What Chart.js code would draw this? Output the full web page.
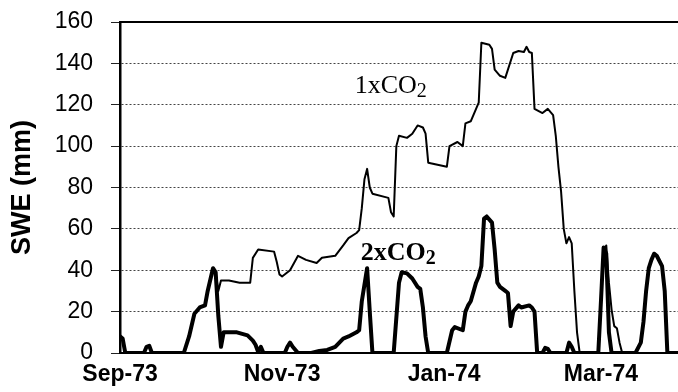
<!DOCTYPE html>
<html>
<head>
<meta charset="utf-8">
<title>SWE 1973-74</title>
<script src="https://cdn.jsdelivr.net/npm/chart.js@4.4.1/dist/chart.umd.min.js"></script>
<style>
  html, body { margin: 0; padding: 0; background: #fff; }
  #wrap { width: 678px; height: 392px; }
</style>
</head>
<body>
<div id="wrap"><canvas id="sweChart" width="678" height="392"></canvas></div>
<script>
// days counted from 1 Sep 1973
const tickDays = [0, 61, 122, 181];
const tickLabels = ["Sep-73", "Nov-73", "Jan-74", "Mar-74"];

// 2xCO2 run
const days2x = [0, 1, 2, 9, 10, 11, 12, 24, 26, 28, 30, 32, 33, 35, 36, 37, 38, 39, 41, 44, 48, 50, 51, 52, 53, 54,
  62, 63, 64, 65, 67, 72, 75, 78, 81, 84, 86, 89, 90, 91, 93, 94, 95, 103, 105, 106, 108, 110, 112, 113, 114, 115, 116,
  123, 125, 126, 129, 130, 131, 132, 134, 135, 136, 137, 138, 140, 141, 142, 143, 145, 146, 147, 148, 150, 151, 154, 155, 156, 157,
  159, 160, 161, 162, 168, 169, 170, 171, 180, 181, 182, 183, 184, 185, 194, 196, 197, 198, 199, 200, 201, 202, 204, 205, 206, 210];
const swe2x = [8, 7, 0, 0, 3, 3.5, 0, 0, 8, 19, 22, 23, 30, 41, 39, 18, 3, 10, 10, 10, 8.5, 6, 4, 0.5, 3, 0,
  0, 3, 5, 3, 0, 0, 1, 1.5, 3, 7, 8, 10, 11, 25, 41, 20, 0, 0, 34, 39, 38.5, 36, 32, 31, 22, 8, 0,
  0, 11, 12.5, 11, 20, 23, 25, 34, 37, 42, 65, 66, 63, 50, 34, 32, 30, 29, 13, 20, 23, 22, 23, 22, 20, 0,
  0, 2.5, 2, 0, 0, 5, 3, 0, 0, 25, 51, 48, 10, 0, 0, 5, 15, 30, 41, 45, 48, 47, 42, 30, 0, 0];

// 1xCO2 run
const days1x = [0, 1, 2, 9, 10, 11, 12, 24, 26, 28, 30, 32, 33, 35, 36, 37, 38, 41, 45, 49, 50, 52, 58, 59, 60, 61,
  64, 67, 70, 74, 76, 81, 84, 86, 89, 90, 91, 92, 93, 94, 95, 101, 102, 103, 104, 105, 108, 110, 112, 114, 115, 116,
  123, 124, 127, 129, 130, 132, 134, 135, 136, 139, 140, 141, 143, 145, 148, 150, 152, 153, 154, 155, 156, 159, 161,
  163, 164, 165, 166, 167, 168, 169, 170, 171, 172, 173, 180, 181, 182, 183, 184, 185, 186, 187, 188, 189,
  194, 196, 197, 198, 199, 200, 201, 202, 204, 205, 206, 210];
const swe1x = [8, 7, 0, 0, 3, 3.5, 0, 0, 8, 19, 22, 23, 30, 41, 39, 30, 35, 35, 34, 34, 46, 50, 49, 44, 38, 37,
  40, 47, 45, 43.5, 46, 47, 52, 55.5, 58, 59.4, 70, 84, 89, 80, 77, 75, 68, 66, 100, 105, 104, 106, 110, 109, 106, 92,
  90, 100, 102, 100, 111, 112, 118, 121, 150, 149, 147, 137, 134, 133, 145, 146, 145.5, 148, 145.5, 145, 118, 116, 118,
  115, 105, 90, 78, 60, 53, 56, 53, 30, 10, 0, 0, 25, 48, 52, 34, 21, 13, 12, 5, 0,
  0, 5, 15, 30, 41, 45, 48, 47, 42, 30, 0, 0];

// text labels placed in data units
const seriesNotes = [
  { main: "1xCO", sub: "2", day: 88.3, value: 125.5, weight: "normal" },
  { main: "2xCO", sub: "2", day: 90.6, value: 45, weight: "bold" }
];

const toPoints = (xs, ys) => xs.map((d, i) => ({ x: d, y: ys[i] }));

const notePlugin = {
  id: "notes",
  afterDatasetsDraw(chart) {
    const { ctx, scales } = chart;
    ctx.save();
    ctx.fillStyle = "#000";
    ctx.textBaseline = "alphabetic";
    ctx.textAlign = "left";
    seriesNotes.forEach(n => {
      const x = scales.x.getPixelForValue(n.day);
      const y = scales.y.getPixelForValue(n.value);
      ctx.font = n.weight + " 26px 'Liberation Serif', 'Times New Roman', serif";
      ctx.fillText(n.main, x, y);
      const w = ctx.measureText(n.main).width;
      ctx.font = n.weight + " 20px 'Liberation Serif', 'Times New Roman', serif";
      ctx.fillText(n.sub, x + w, y + 4);
    });
    ctx.restore();
  }
};

Chart.defaults.font.family = "'Liberation Sans', Arial, sans-serif";
Chart.defaults.color = "#000";

new Chart(document.getElementById("sweChart").getContext("2d"), {
  type: "line",
  data: {
    datasets: [
      {
        label: "2xCO2",
        data: toPoints(days2x, swe2x),
        borderColor: "#000",
        borderWidth: 4,
        pointRadius: 0,
        tension: 0,
        borderJoinStyle: "round",
        borderCapStyle: "round",
        fill: false
      },
      {
        label: "1xCO2",
        data: toPoints(days1x, swe1x),
        borderColor: "#000",
        borderWidth: 2,
        pointRadius: 0,
        tension: 0,
        borderJoinStyle: "round",
        fill: false
      }
    ]
  },
  options: {
    responsive: false,
    animation: false,
    layout: { padding: { top: 22, right: 0, bottom: 0, left: 0 } },
    plugins: { legend: { display: false }, tooltip: { enabled: false } },
    scales: {
      x: {
        type: "linear",
        position: "bottom",
        min: 0,
        max: 210,
        afterBuildTicks: scale => { scale.ticks = tickDays.map(v => ({ value: v })); },
        afterFit: scale => { scale.height = 39; },
        ticks: {
          padding: 8,
          maxRotation: 0,
          autoSkip: false,
          font: { size: 23, weight: "bold" },
          callback: (v, i) => tickLabels[i]
        },
        grid: { display: false, drawTicks: false },
        border: { display: true, color: "#000", width: 2 }
      },
      xTop: {
        type: "linear",
        position: "top",
        min: 0,
        max: 210,
        afterFit: scale => { scale.height = 0; },
        ticks: { display: false },
        grid: { display: false, drawTicks: false },
        border: { display: true, color: "#000", width: 2 }
      },
      y: {
        min: 0,
        max: 160,
        // fixed axis box; the label gap must not push the plot down
        afterFit: scale => {
          scale.width = 120;
          scale.paddingTop = 0;
          scale.paddingBottom = 0;
        },
        ticks: {
          stepSize: 10,
          padding: 18,
          font: { size: 23 },
          callback: v => (v % 20 === 0 ? v : "")
        },
        grid: {
          color: c => {
            const v = c.tick ? c.tick.value : 0;
            return v % 20 === 0 && v > 0 && v < 160 ? "#444" : "rgba(0,0,0,0)";
          },
          lineWidth: 1,
          tickColor: "#222",
          tickLength: 9
        },
        border: { display: true, color: "#000", width: 2.5, dash: [2, 2] },
        title: {
          display: true,
          text: "SWE (mm)",
          font: { size: 27, weight: "bold" },
          padding: { top: 6, bottom: 0 }
        }
      }
    }
  },
  plugins: [notePlugin]
});
</script>
</body>
</html>
